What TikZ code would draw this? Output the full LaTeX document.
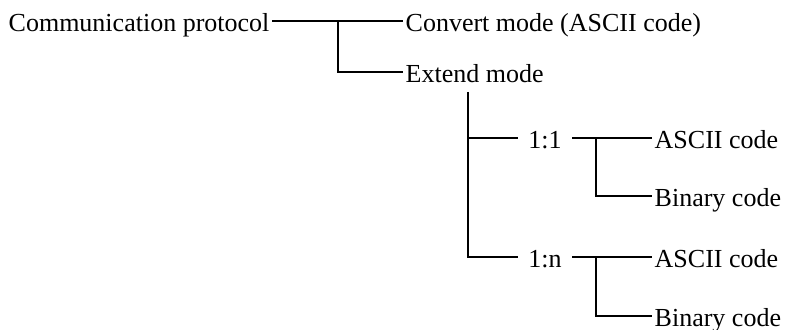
\documentclass[tikz,border=0pt]{standalone}
\usepackage{fontspec}
\setmainfont{Liberation Serif}
\begin{document}
\begin{tikzpicture}[x=0.5pt, y=-0.5pt, line width=0.7pt,
    lbl/.style={anchor=west, inner xsep=1pt, inner ysep=0pt, text height=11pt, text depth=0pt, font=\fontsize{13}{15}\selectfont},
    ratio/.style={anchor=center, inner xsep=5pt, inner ysep=0pt, text height=11pt, text depth=0pt, font=\fontsize{13}{15}\selectfont}]
    \useasboundingbox (0,0) rectangle (787,330);

    % Root and first level
    \node[lbl] (comm) at (6,21) {Communication protocol};
    \node[lbl] (conv) at (403,21) {Convert mode (ASCII code)};
    \node[lbl] (ext) at (403,72) {Extend mode};

    % Second level
    \node[ratio] (r11) at (545,138) {1:1};
    \node[ratio] (r1n) at (545,257) {1:n};

    % Leaves
    \node[lbl] (asc1) at (652,138) {ASCII code};
    \node[lbl] (bin1) at (652,196) {Binary code};
    \node[lbl] (asc2) at (652,257) {ASCII code};
    \node[lbl] (bin2) at (652,316) {Binary code};

    % Branch points
    \coordinate (j1) at (338,21);
    \coordinate (j2) at (468,92);
    \coordinate (j3) at (596,138);
    \coordinate (j4) at (596,257);

    % Connectors
    \draw (comm.east) -- (conv.west);
    \draw (j1) |- (ext.west);
    \draw (j2) |- (r1n.west);
    \draw (r11.west) -| (j2);
    \draw (r11.east) -- (asc1.west);
    \draw (j3) |- (bin1.west);
    \draw (r1n.east) -- (asc2.west);
    \draw (j4) |- (bin2.west);

\end{tikzpicture}
\end{document}
